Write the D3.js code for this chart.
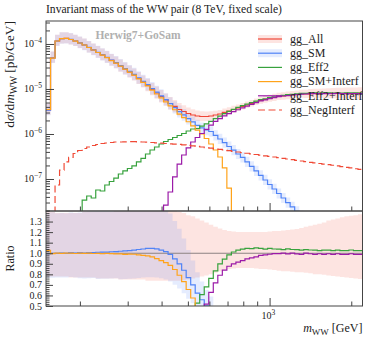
<!DOCTYPE html>
<html>
<head>
<meta charset="utf-8">
<script src="https://cdn.jsdelivr.net/npm/d3@7"></script>
<style>
  body { margin: 0; background: #fff; }
  svg { display: block; }
  text { font-family: "Liberation Serif", serif; fill: #222; }
</style>
</head>
<body>
<div id="chart"></div>
<script>
// histogram binning (log spaced in m_WW)
const massMin = 150, massMax = 2200, nBins = 70
const UNIT = 1e-6 // series below are in 1e-6 pb/GeV

const ggAll = [
  3.41, 48.9, 116.6, 131.8, 132.6, 125.9, 116.6, 105.2, 95.0, 83.6,
  73.6, 64.7, 57.0, 50.1, 43.0, 37.8, 32.4, 27.8, 23.9, 20.5,
  17.1, 14.3, 12.0, 9.75, 8.15, 6.81, 5.70, 4.76, 4.09, 3.50,
  3.16, 2.85, 2.64, 2.51, 2.45, 2.45, 2.51, 2.64, 2.78, 3.01,
  3.24, 3.50, 3.78, 4.09, 4.41, 4.76, 5.14, 5.55, 5.84, 6.15,
  6.47, 6.81, 6.99, 7.17, 7.36, 7.55, 7.74, 7.74, 7.90, 7.96,
  7.92, 7.98, 7.93, 7.95, 7.99, 7.94, 7.97, 7.92, 7.96, 7.95
]
const ggSM = [
  3.40, 48.8, 116.5, 131.9, 132.4, 126.5, 116.6, 105.7, 95.0, 84.0,
  74.0, 65.3, 57.6, 50.6, 43.6, 38.4, 33.0, 28.4, 24.5, 21.1,
  17.7, 14.87, 12.54, 10.19, 8.48, 7.01, 5.79, 4.71, 3.87, 3.15,
  2.65, 2.19, 1.85, 1.56, 1.37, 1.23, 1.137, 0.936, 0.774, 0.641,
  0.527, 0.436, 0.359, 0.301, 0.239, 0.190, 0.151, 0.120, 0.0950, 0.0755,
  0.0600, 0.0476, 0.0378, 0.0300, 0.0239, 0.0190, 0.0151, 0.0119, 0.0095, null,
  null, null, null, null, null, null, null, null, null, null
]
const ggEff2 = [
  null, null, null, null, null, null, null, null, 0.0341, 0.0419,
  0.0378, 0.0570, 0.0541, 0.0736, 0.0880, 0.105, 0.129, 0.151, 0.171, 0.195,
  0.239, 0.286, 0.359, 0.441, 0.514, 0.600, 0.681, 0.755, 0.836, 0.926,
  1.026, 1.166, 1.29, 1.325, 1.49, 1.67, 1.91, 2.20, 2.50, 2.84,
  3.19, 3.54, 3.89, 4.25, 4.61, 4.97, 5.40, 5.80, 6.07, 6.43,
  6.73, 7.08, 7.23, 7.46, 7.62, 7.81, 7.97, 8.01, 8.14, 8.20,
  8.12, 8.22, 8.17, 8.15, 8.23, 8.14, 8.17, 8.16, 8.16, 8.15
]
const ggSMInterf = [
  3.50, 48.7, 116.6, 131.6, 132.6, 125.9, 116.3, 105.2, 94.8, 83.6,
  73.4, 64.6, 56.8, 50.0, 42.8, 37.6, 32.2, 27.5, 23.7, 20.3,
  16.84, 14.01, 11.70, 9.41, 7.74, 6.33, 5.19, 4.21, 3.46, 2.77,
  2.31, 1.87, 1.52, 1.22, 1.00, 0.794, 0.600, 0.441, 0.308, 0.176,
  0.063, null, null, null, null, null, null, null, null, null,
  null, null, null, null, null, null, null, null, null, null,
  null, null, null, null, null, null, null, null, null, null
]
const ggEff2Interf = [
  null, null, null, null, null, null, null, null, null, null,
  null, null, null, null, null, null, null, null, null, null,
  null, null, null, null, null, null, 0.0264, 0.0514, 0.111, 0.215,
  0.341, 0.489, 0.664, 0.836, 1.026, 1.27, 1.58, 1.90, 2.20, 2.53,
  2.84, 3.15, 3.46, 3.80, 4.17, 4.55, 4.96, 5.44, 5.75, 6.09,
  6.44, 6.78, 6.99, 7.13, 7.36, 7.51, 7.66, 7.74, 7.86, 7.88,
  7.88, 7.90, 7.89, 7.87, 7.95, 7.86, 7.89, 7.88, 7.88, 7.87
]
const ggNegInterf = [
  null, null, 0.0736, 0.158, 0.239, 0.301, 0.369, 0.430, 0.476, 0.514,
  0.555, 0.584, 0.615, 0.631, 0.647, 0.664, 0.664, 0.671, 0.675, 0.675,
  0.671, 0.664, 0.658, 0.647, 0.637, 0.625, 0.615, 0.606, 0.597, 0.588,
  0.575, 0.561, 0.547, 0.530, 0.514, 0.499, 0.483, 0.469, 0.455, 0.441,
  0.426, 0.413, 0.398, 0.386, 0.373, 0.361, 0.350, 0.340, 0.328, 0.318,
  0.308, 0.299, 0.288, 0.278, 0.270, 0.260, 0.251, 0.242, 0.235, 0.228,
  0.221, 0.214, 0.208, 0.202, 0.195, 0.189, 0.182, 0.176, 0.169, 0.163
]

// relative uncertainty bands (multiplicative, up / down)
const allBandUp = [
  1.39, 1.39, 1.38, 1.38, 1.38, 1.38, 1.38, 1.38, 1.39, 1.39,
  1.39, 1.39, 1.39, 1.39, 1.39, 1.40, 1.40, 1.40, 1.40, 1.40,
  1.40, 1.40, 1.40, 1.40, 1.40, 1.40, 1.40, 1.40, 1.40, 1.39,
  1.38, 1.36, 1.35, 1.33, 1.31, 1.29, 1.27, 1.25, 1.235, 1.22,
  1.21, 1.205, 1.20, 1.20, 1.20, 1.20, 1.20, 1.20, 1.20, 1.205,
  1.21, 1.21, 1.215, 1.22, 1.225, 1.23, 1.24, 1.25, 1.26, 1.27,
  1.28, 1.29, 1.31, 1.32, 1.33, 1.34, 1.35, 1.355, 1.36, 1.37
]
const allBandDown = [
  0.78, 0.78, 0.78, 0.78, 0.78, 0.77, 0.77, 0.77, 0.77, 0.77,
  0.77, 0.76, 0.76, 0.76, 0.76, 0.76, 0.75, 0.75, 0.75, 0.75,
  0.75, 0.75, 0.74, 0.74, 0.74, 0.74, 0.74, 0.74, 0.74, 0.74,
  0.745, 0.75, 0.76, 0.77, 0.78, 0.79, 0.80, 0.815, 0.83, 0.84,
  0.85, 0.855, 0.86, 0.86, 0.86, 0.86, 0.855, 0.85, 0.85, 0.845,
  0.84, 0.835, 0.83, 0.83, 0.825, 0.82, 0.82, 0.815, 0.81, 0.80,
  0.80, 0.795, 0.79, 0.785, 0.78, 0.775, 0.77, 0.765, 0.76, 0.755
]
const smBandUp = [
  1.39, 1.39, 1.38, 1.38, 1.38, 1.38, 1.38, 1.38, 1.39, 1.39,
  1.39, 1.39, 1.39, 1.39, 1.39, 1.40, 1.40, 1.40, 1.40, 1.40,
  1.40, 1.40, 1.40, 1.40, 1.40, 1.40, 1.39, 1.39, 1.38, 1.37,
  1.36, 1.34, 1.33, 1.32, 1.31, 1.30, 1.30, 1.30, 1.30, 1.30,
  1.30, 1.30, 1.30, 1.30, 1.30, 1.30, 1.30, 1.30, 1.30, 1.30,
  1.30, 1.30, 1.30, 1.30, 1.30, 1.30, 1.30, 1.30, 1.30, 1.30,
  1.30, 1.30, 1.30, 1.30, 1.30, 1.30, 1.30, 1.30, 1.30, 1.30
]
const smBandDown = [
  0.77, 0.77, 0.77, 0.77, 0.77, 0.77, 0.77, 0.76, 0.76, 0.76,
  0.76, 0.75, 0.75, 0.75, 0.75, 0.75, 0.74, 0.74, 0.74, 0.74,
  0.74, 0.74, 0.74, 0.74, 0.74, 0.74, 0.74, 0.74, 0.74, 0.74,
  0.74, 0.74, 0.75, 0.75, 0.76, 0.76, 0.76, 0.77, 0.77, 0.77,
  0.77, 0.77, 0.77, 0.77, 0.77, 0.77, 0.77, 0.77, 0.77, 0.77,
  0.77, 0.77, 0.77, 0.77, 0.77, 0.77, 0.77, 0.77, 0.77, 0.77,
  0.77, 0.77, 0.77, 0.77, 0.77, 0.77, 0.77, 0.77, 0.77, 0.77
]

// ticks and labels
const yMajorTicks = [1e-4, 1e-5, 1e-6, 1e-7]
const yMajorExp = ['\u22124', '\u22125', '\u22126', '\u22127']
const ratioTicks = [0.5, 0.6, 0.7, 0.8, 0.9, 1.0, 1.1, 1.2, 1.3]
const ratioLabels = ['0.5', '0.6', '0.7', '0.8', '0.9', '1.0', '1.1', '1.2', '1.3']
const xMajorTicks = [1000]

const series = [
  { name: 'gg_All', vals: ggAll, color: '#ef4536' },
  { name: 'gg_SM', vals: ggSM, color: '#5083f6' },
  { name: 'gg_Eff2', vals: ggEff2, color: '#37a23d' },
  { name: 'gg_SM+Interf', vals: ggSMInterf, color: '#ffa31a' },
  { name: 'gg_Eff2+Interf', vals: ggEff2Interf, color: '#9b1aa8' },
  { name: 'gg_NegInterf', vals: ggNegInterf, color: '#f04a36', dash: '7,3.5' }
]
const redBand = 'rgba(240, 90, 70, 0.16)'
const blueBand = 'rgba(80, 130, 250, 0.15)'

const width = 374, height = 337
const L = 46, R = 362.5, T = 21, M = 211, B = 306

const svg = d3.select('#chart').append('svg')
  .attr('width', width).attr('height', height)
  .attr('viewBox', [0, 0, width, height])

const x = d3.scaleLog().domain([massMin, massMax]).range([L, R])
const y = d3.scaleLog().domain([1.945e-8, 3.24e-4]).range([M, T])
const yr = d3.scaleLinear().domain([0.5, 1.4]).range([B, M])

const edges = d3.range(nBins + 1).map(i => massMin * Math.pow(massMax / massMin, i / nBins))
const toPb = a => a.map(v => v == null ? null : v * UNIT)
const all = toPb(ggAll)

const defs = svg.append('defs')
defs.append('clipPath').attr('id', 'clipMain').append('rect')
  .attr('x', L).attr('y', T).attr('width', R - L).attr('height', M - T)
defs.append('clipPath').attr('id', 'clipRatio').append('rect')
  .attr('x', L).attr('y', M).attr('width', R - L).attr('height', B - M)

const steps = vals => vals.flatMap((v, i) => [[edges[i], v], [edges[i + 1], v]])
const bandSteps = (vals, up, down) =>
  vals.flatMap((v, i) => v == null ? [[edges[i], null], [edges[i + 1], null]]
    : [[edges[i], v * down[i], v * up[i]], [edges[i + 1], v * down[i], v * up[i]]])

const mainLine = d3.line().x(d => x(d[0])).y(d => y(d[1] == null ? 1e-12 : d[1]))
const ratioLine = d3.line().x(d => x(d[0])).y(d => yr(d[1] == null ? 0 : d[1]))
const mainArea = d3.area().defined(d => d[1] != null)
  .x(d => x(d[0])).y0(d => y(d[1])).y1(d => y(d[2]))
const ratioArea = d3.area().defined(d => d[1] != null)
  .x(d => x(d[0])).y0(d => yr(d[1])).y1(d => yr(d[2]))

// ---- main panel
const gMain = svg.append('g').attr('clip-path', 'url(#clipMain)')
gMain.append('path').attr('d', mainArea(bandSteps(all, allBandUp, allBandDown))).attr('fill', redBand)
gMain.append('path').attr('d', mainArea(bandSteps(toPb(ggSM), smBandUp, smBandDown))).attr('fill', blueBand)

series.forEach(s => {
  gMain.append('path')
    .attr('d', mainLine(steps(toPb(s.vals))))
    .attr('fill', 'none')
    .attr('stroke', s.color)
    .attr('stroke-width', 1.2)
    .attr('stroke-dasharray', s.dash || null)
})

// ---- ratio panel (ratio to gg_All)
const ratioOf = vals => toPb(vals).map((v, i) => v == null ? null : v / all[i])
const gRatio = svg.append('g').attr('clip-path', 'url(#clipRatio)')
const ones = all.map(() => 1)
gRatio.append('path').attr('d', ratioArea(bandSteps(ones, allBandUp, allBandDown))).attr('fill', redBand)
gRatio.append('path').attr('d', ratioArea(bandSteps(ratioOf(ggSM), smBandUp, smBandDown))).attr('fill', blueBand)
gRatio.append('line')
  .attr('x1', L).attr('x2', R).attr('y1', yr(1)).attr('y2', yr(1))
  .attr('stroke', '#8d8282').attr('stroke-width', 1.1)
series.slice(1, 5).forEach(s => {
  gRatio.append('path')
    .attr('d', ratioLine(steps(ratioOf(s.vals))))
    .attr('fill', 'none')
    .attr('stroke', s.color)
    .attr('stroke-width', 1.2)
})

// ---- axes (ticks point inward)
const tickColor = '#444'
const clean = g => { g.select('.domain').remove(); g.selectAll('line').attr('stroke', tickColor) }

const yMinor = y.ticks().filter(v => !yMajorTicks.some(t => Math.abs(t - v) / t < 1e-6))
svg.append('g').attr('transform', `translate(${L},0)`)
  .call(d3.axisLeft(y).tickValues(yMinor).tickSize(-4).tickFormat('')).call(clean)
svg.append('g').attr('transform', `translate(${L},0)`)
  .call(d3.axisLeft(y).tickValues(yMajorTicks).tickSize(-8).tickFormat('')).call(clean)
svg.append('g').selectAll('text').data(yMajorTicks).join('text')
  .attr('x', L - 4).attr('y', d => y(d) + 3.5)
  .attr('text-anchor', 'end').attr('font-size', 10)
  .each(function (d, i) {
    const t = d3.select(this)
    t.append('tspan').text('10')
    t.append('tspan').attr('dy', -4.5).attr('font-size', 7.5).text(yMajorExp[i])
  })

const ratioMinor = d3.range(0.5, 1.401, 0.02)
svg.append('g').attr('transform', `translate(${L},0)`)
  .call(d3.axisLeft(yr).tickValues(ratioMinor).tickSize(-3.5).tickFormat('')).call(clean)
svg.append('g').attr('transform', `translate(${L},0)`)
  .call(d3.axisLeft(yr).tickValues(ratioTicks).tickSize(-7).tickFormat('')).call(clean)
svg.append('g').selectAll('text').data(ratioTicks).join('text')
  .attr('x', L - 4).attr('y', d => yr(d) + 3.5)
  .attr('text-anchor', 'end').attr('font-size', 10)
  .text((d, i) => ratioLabels[i])

const xMinor = x.ticks().filter(v => !xMajorTicks.includes(v))
;[M, B].forEach(yy => {
  svg.append('g').attr('transform', `translate(0,${yy})`)
    .call(d3.axisBottom(x).tickValues(xMinor).tickSize(-4.5).tickFormat('')).call(clean)
  svg.append('g').attr('transform', `translate(0,${yy})`)
    .call(d3.axisBottom(x).tickValues(xMajorTicks).tickSize(-8).tickFormat('')).call(clean)
})
svg.append('g').selectAll('text').data(xMajorTicks).join('text')
  .attr('x', d => x(d) - 8).attr('y', 319).attr('font-size', 10)
  .each(function () {
    const t = d3.select(this)
    t.append('tspan').text('10')
    t.append('tspan').attr('dy', -4.5).attr('font-size', 7.5).text('3')
  })

// frames
svg.append('rect').attr('x', L).attr('y', T).attr('width', R - L).attr('height', M - T)
  .attr('fill', 'none').attr('stroke', tickColor).attr('stroke-width', 1)
svg.append('rect').attr('x', L).attr('y', M).attr('width', R - L).attr('height', B - M)
  .attr('fill', 'none').attr('stroke', tickColor).attr('stroke-width', 1)

// ---- labels
svg.append('text').attr('x', L).attr('y', 13).attr('font-size', 11.6)
  .text('Invariant mass of the WW pair (8 TeV, fixed scale)')

svg.append('text').attr('x', 138).attr('y', 39).attr('text-anchor', 'middle')
  .attr('font-size', 11.5).attr('font-weight', 'bold').style('fill', '#b0b0b0')
  .text('Herwig7+GoSam')

const yl = svg.append('text').attr('transform', `translate(14,${T}) rotate(-90)`)
  .attr('text-anchor', 'end').attr('font-size', 13.5)
yl.append('tspan').text('d')
yl.append('tspan').attr('font-style', 'italic').text('\u03c3')
yl.append('tspan').text('/d')
yl.append('tspan').attr('font-style', 'italic').text('m')
yl.append('tspan').attr('font-size', 9.5).attr('dy', 2.5).text('WW')
yl.append('tspan').attr('dy', -2.5).text(' [pb/GeV]')

svg.append('text').attr('transform', `translate(14,${(M + B) / 2}) rotate(-90)`)
  .attr('text-anchor', 'middle').attr('font-size', 12).text('Ratio')

const xl = svg.append('text').attr('x', R).attr('y', 332)
  .attr('text-anchor', 'end').attr('font-size', 12)
xl.append('tspan').attr('font-style', 'italic').text('m')
xl.append('tspan').attr('font-size', 9).attr('dy', 2.5).text('WW')
xl.append('tspan').attr('dy', -2.5).text(' [GeV]')

// ---- legend
const legend = svg.append('g')
series.forEach((s, i) => {
  const ly = 39 + i * 14.2
  if (i === 0 || i === 1) {
    legend.append('rect').attr('x', 258).attr('y', ly - 4).attr('width', 24).attr('height', 8)
      .attr('fill', i === 0 ? redBand : blueBand)
  }
  legend.append('line').attr('x1', 258).attr('x2', 282).attr('y1', ly).attr('y2', ly)
    .attr('stroke', s.color).attr('stroke-width', 1.2)
    .attr('stroke-dasharray', s.dash || null)
  legend.append('text').attr('x', 290).attr('y', ly + 3.8).attr('font-size', 12).text(s.name)
})
</script>
</body>
</html>
